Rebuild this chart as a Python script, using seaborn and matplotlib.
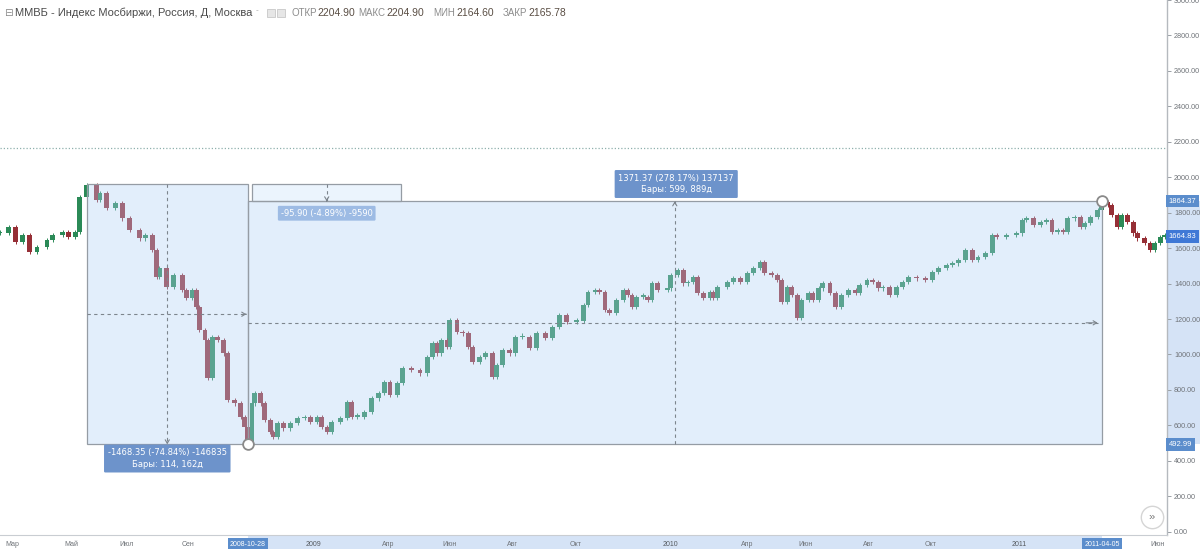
import numpy as np
import pandas as pd
import matplotlib
matplotlib.use("Agg")
import matplotlib.pyplot as plt
import matplotlib.transforms as mtransforms
from matplotlib.patches import Rectangle
import seaborn as sns

# ---------------- data ----------------
# trading-bar index (days from left edge of view) and closing values
bars = [0, 6, 11, 16, 21, 26, 33, 37, 44, 48, 53, 56, 61, 68, 70, 75, 81, 86, 91, 98, 102, 107, 110, 112,
        117, 122, 128, 131, 135, 138, 140, 144, 146, 149, 153, 157, 160, 165, 169, 172, 174,
        177, 179, 183, 186, 190, 192, 195, 199, 204, 209, 214, 218, 223, 226, 230, 233, 239, 244, 247, 251,
        256, 261, 266, 270, 274, 279, 283, 289, 295, 300, 304, 307, 310, 314, 316, 321, 325, 329, 332, 337,
        341, 346, 349, 353, 358, 362, 367, 372, 377, 383, 388, 393, 398, 405,
        410, 413, 418, 421, 425, 428, 433, 438, 441, 444, 447, 452, 455, 458, 462, 469, 471, 476, 480, 483,
        487, 490, 494, 499, 501, 504, 511, 515, 520, 525, 529, 534, 537, 542, 546, 549, 553, 556, 560, 563,
        568, 571, 575, 578, 583, 587, 591, 596, 601, 604, 609, 613, 617,
        620, 625, 630, 634, 638, 644, 650, 655, 659, 665, 669, 673, 678, 683, 687, 692, 697, 700, 707, 714,
        718, 721, 726, 731, 735, 739, 743, 747, 750, 755, 759, 762, 766, 771, 774, 778, 781, 785, 788, 792,
        796, 799, 804, 808, 811, 815, 818]
closes = [1685, 1721, 1636, 1674, 1580, 1608, 1646, 1674, 1693, 1665, 1693, 1890, 1955, 1871, 1909, 1825,
          1853, 1768, 1702, 1655, 1674, 1589, 1439, 1486, 1382, 1448, 1364, 1317, 1364, 1269, 1138, 1082,
          870, 1100, 1082, 1006, 743, 724, 649, 592, 505,
          724, 781, 724, 630, 564, 536, 612, 583, 612, 640, 649, 621, 649, 592, 564, 621, 640, 733, 649, 649,
          677, 752, 781, 846, 771, 837, 922, 912, 893, 987, 1063, 1006, 1082, 1044, 1194, 1128, 1119, 1044,
          959, 987, 1006, 874, 940, 1025, 1006, 1100, 1100, 1035, 1119, 1091, 1157, 1223, 1185, 1190,
          1279, 1354, 1364, 1354, 1251, 1232, 1307, 1364, 1335, 1269, 1326, 1326, 1307, 1401, 1364, 1373,
          1448, 1477, 1401, 1411, 1439, 1345, 1317, 1354, 1317, 1382, 1411, 1429, 1411, 1458, 1486, 1523,
          1458, 1448, 1420, 1298, 1382, 1335, 1204, 1307, 1345, 1307, 1373, 1401, 1345, 1269, 1335, 1364,
          1345, 1392, 1420, 1411, 1373,
          1382, 1335, 1382, 1411, 1439, 1429, 1420, 1467, 1486, 1505, 1514, 1533, 1589, 1533, 1551, 1571,
          1674, 1665, 1674, 1683, 1759, 1768, 1730, 1749, 1759, 1693, 1702, 1693, 1768, 1777, 1721, 1740,
          1777, 1815, 1860, 1843, 1787, 1721, 1787, 1749, 1683, 1655, 1627, 1589, 1627, 1665, 1665]

tick_bars = [9, 50, 89, 132, 174, 220.5, 272.5, 316, 360, 404.5, 471, 525, 566, 610, 654, 716, 774, 813]
tick_labels = ["Мар", "Май", "Июл", "Сен", "2008-10-28", "2009", "Апр", "Июн", "Авг", "Окт",
               "2010", "Апр", "Июн", "Авг", "Окт", "2011", "2011-04-05", "Июн"]
price_ticks = [0, 200, 400, 600, 800, 1000, 1200, 1400, 1600, 1800, 2000, 2200, 2400, 2600, 2800, 3000]

fall_bars = (61, 174)
fall_prices = (1961.34, 492.99)
rise_bars = (174, 774)
rise_prices = (492.99, 1864.37)
small_bars = (177, 282)
small_prices = (1864.37, 1960.27)
fall_label = "-1468.35 (-74.84%) -146835\nБары: 114, 162д"
rise_label = "1371.37 (278.17%) 137137\nБары: 599, 889д"
small_label = "-95.90 (-4.89%) -9590"
last_price = 2165.78
last_visible = 1664.83

header_title = "ММВБ - Индекс Мосбиржи, Россия, Д, Москва"
header_fields = [("ОТКР", "2204.90"), ("МАКС", "2204.90"), ("МИН", "2164.60"), ("ЗАКР", "2165.78")]

# ---------------- style ----------------
sns.set_style("white")
plt.rcParams['font.family'] = ['Liberation Sans', 'DejaVu Sans']

W, H = 1200, 549
fig = plt.figure(figsize=(W / 100, H / 100), dpi=100)
ax = fig.add_axes([0, 14 / H, 1167 / W, 535 / H])
ax.set_xlim(0, 1167 / 1.4236)
ax.set_ylim(-18.6, 3000.3)

df = pd.DataFrame({"bar": bars, "close": closes})
df["open"] = df["close"].shift(1).fillna(df["close"])
df["up"] = df["close"] >= df["open"]
df["bottom"] = df[["open", "close"]].min(axis=1)
df["height"] = (df["close"] - df["open"]).abs().clip(lower=7)

up_c, dn_c = "#2b8a57", "#962f36"
colors = np.where(df["up"], up_c, dn_c)
ax.bar(df["bar"], df["height"], bottom=df["bottom"], width=3.4, color=colors, linewidth=0, zorder=2)
ax.vlines(df["bar"], df["bottom"] - 12, df["bottom"] + df["height"] + 12, colors=colors, lw=0.7, zorder=2)

# current price dotted line
ax.axhline(last_price, color="#8fb0ad", lw=0.9, ls=(0, (1, 1.6)), zorder=1)

box_fc = (175 / 255, 209 / 255, 246 / 255, 0.36)
edge = "#959ca4"
ax.add_patch(Rectangle((fall_bars[0], fall_prices[1]), fall_bars[1] - fall_bars[0],
                       fall_prices[0] - fall_prices[1], fc=box_fc, ec=edge, lw=0.9, zorder=3))
ax.add_patch(Rectangle((rise_bars[0], rise_prices[0]), rise_bars[1] - rise_bars[0],
                       rise_prices[1] - rise_prices[0], fc=box_fc, ec=edge, lw=0.9, zorder=3))
ax.add_patch(Rectangle((small_bars[0], small_prices[0]), small_bars[1] - small_bars[0],
                       small_prices[1] - small_prices[0], fc=(200 / 255, 224 / 255, 250 / 255, 0.35),
                       ec=edge, lw=0.9, zorder=3))

dash_c = "#7d858d"
def dashed(x0, y0, x1, y1):
    ax.plot([x0, x1], [y0, y1], color=dash_c, lw=0.8, ls=(0, (3, 3)), zorder=4)
    ax.annotate("", xy=(x1, y1), xytext=(x0 + (x1 - x0) * 0.98, y0 + (y1 - y0) * 0.98),
                arrowprops=dict(arrowstyle="->,head_length=0.25,head_width=0.15", color=dash_c, lw=0.8),
                zorder=4)

fmx = sum(fall_bars) / 2
fmy = sum(fall_prices) / 2
dashed(fmx, fall_prices[0], fmx, fall_prices[1])
dashed(fall_bars[0], fmy, fall_bars[1] - 1, fmy)
rmx = sum(rise_bars) / 2
rmy = sum(rise_prices) / 2
dashed(rmx, rise_prices[0], rmx, rise_prices[1])
dashed(rise_bars[0], rmy, rise_bars[1] - 1, rmy)
smx = sum(small_bars) / 2
dashed(smx, small_prices[1], smx, small_prices[0])

lab_c = "#6d93cb"
ax.text(fmx, 413, fall_label, ha="center", va="center", color="white", fontsize=6,
        family=["DejaVu Sans"], linespacing=1.35, zorder=6,
        bbox=dict(boxstyle="round,pad=0.45,rounding_size=0.15", fc=lab_c, ec="none"))
ax.text(rmx + 1, 1962, rise_label, ha="center", va="center", color="white", fontsize=6,
        family=["DejaVu Sans"], linespacing=1.35, zorder=6,
        bbox=dict(boxstyle="round,pad=0.45,rounding_size=0.15", fc=lab_c, ec="none"))
ax.text(smx, 1797, small_label, ha="center", va="center", color="white", fontsize=6,
        family=["DejaVu Sans"], zorder=6,
        bbox=dict(boxstyle="round,pad=0.35,rounding_size=0.15", fc="#9dbbe4", ec="none"))

# anchor circles
anchors = pd.DataFrame({"bar": [fall_bars[1], rise_bars[1]], "price": [rise_prices[0], rise_prices[1]]})
sns.scatterplot(data=anchors, x="bar", y="price", ax=ax, s=60, color="white", edgecolor="#8a8a8a",
                linewidth=1.3, zorder=7, legend=False)

# "»" button
ax.scatter([809.2], [83], s=260, facecolor="white", edgecolor="#d5d5d5", linewidth=1.0, zorder=7)
ax.text(809.2, 85, "»", ha="center", va="center", fontsize=8, color="#777777", zorder=8)

# ---------------- axes ----------------
for s in ["top", "left"]:
    ax.spines[s].set_visible(False)
ax.spines["right"].set_color("#b5b9be")
ax.spines["bottom"].set_color("#c9cdd2")
ax.spines["right"].set_linewidth(1.0)
ax.spines["bottom"].set_linewidth(0.8)

ax.yaxis.tick_right()
ax.set_yticks(price_ticks)
ax.set_yticklabels([f"{v:.2f}" for v in price_ticks])
ax.tick_params(axis="y", length=3, width=0.7, color="#9aa0a6", labelsize=5.2, labelcolor="#6f7378", pad=2)
ax.set_xticks(tick_bars)
ax.set_xticklabels(tick_labels)
ax.tick_params(axis="x", length=2, width=0.7, color="#9aa0a6", labelsize=5, labelcolor="#6f7378", pad=2)
ax.set_xlabel("")
ax.set_ylabel("")
for t in ax.get_xticklabels():
    if "-" in t.get_text():
        t.set_color("white")
        t.set_bbox(dict(boxstyle="square,pad=0.3", fc="#5b8dcc", ec="none"))
        t.set_zorder(6)
    elif t.get_text().isdigit():
        t.set_color("#55595e")

# highlighted bands on axes
bx = mtransforms.blended_transform_factory(ax.transData, ax.transAxes)
ax.add_patch(Rectangle((rise_bars[0], -14 / 535), rise_bars[1] - rise_bars[0], 14 / 535,
                       transform=bx, fc="#d5e3f6", ec="none", clip_on=False, zorder=0))
by = mtransforms.blended_transform_factory(ax.transAxes, ax.transData)
ax.add_patch(Rectangle((1.0, rise_prices[0]), 33 / 1167, rise_prices[1] - rise_prices[0],
                       transform=by, fc="#d5e3f6", ec="none", clip_on=False, zorder=0))
for val, fc in [(rise_prices[1], "#5b8dcc"), (last_visible, "#3f78d6"), (rise_prices[0], "#5b8dcc")]:
    ax.text(1.0 + 1.5 / 1167, val, f"{val:.2f}", transform=by, ha="left", va="center", fontsize=5.5,
            color="white", zorder=9, clip_on=False,
            bbox=dict(boxstyle="square,pad=0.35", fc=fc, ec="none"))

# ---------------- header ----------------
ty = 1 - 13 / H
fig.text(4 / W, ty, "⊟", fontsize=7.5, color="#8a8a8a", va="center", family=["DejaVu Sans"])
fig.text(15 / W, ty, header_title, fontsize=8, color="#4a4a4a", va="center")
fig.text(256 / W, ty + 2 / H, "-", fontsize=6, color="#aaaaaa", va="center")
for px in (267, 277):
    fig.patches.append(Rectangle((px / W, (H - 17) / H), 8 / W, 8 / H, transform=fig.transFigure,
                                 fc="#e6e6e6", ec="#c8c8c8", lw=0.6))
xpos = [291, 358, 433, 503]
for (lab, val), px in zip(header_fields, xpos):
    t = fig.text(px / W, ty, lab, fontsize=7, color="#8c8c8c", va="center")
    ax.annotate(val, xy=(1, 0.5), xycoords=t, xytext=(1, 0), textcoords="offset points",
                fontsize=7.5, color="#5a4e44", va="center", ha="left", annotation_clip=False)

fig.savefig("out.png", dpi=100)
